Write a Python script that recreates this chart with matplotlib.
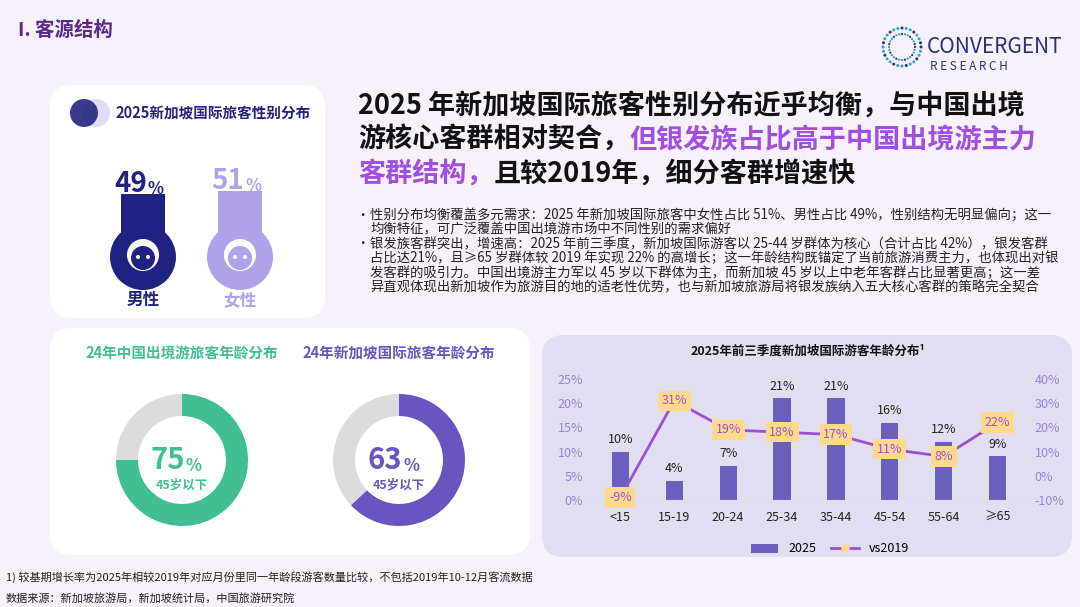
import numpy as np
import matplotlib.pyplot as plt
from matplotlib.patches import FancyBboxPatch, Rectangle, Circle, Wedge

plt.rcParams['font.family'] = ['Noto Sans CJK SC', 'DejaVu Sans']

ages = ["<15", "15-19", "20-24", "25-34", "35-44", "45-54", "55-64", "≥65"]
share_2025 = [10, 4, 7, 21, 21, 16, 12, 9]
growth_vs2019 = [-9, 31, 19, 18, 17, 11, 8, 22]
gender_labels = ["男性", "女性"]
gender_share = [49, 51]
donut_titles = ["24年中国出境游旅客年龄分布", "24年新加坡国际旅客年龄分布"]
donut_share = [75, 63]

W, H = 1080, 607
fig = plt.figure(figsize=(W / 100, H / 100), dpi=100)
fig.patch.set_facecolor("#f6f1fb")
bg = fig.add_axes([0, 0, 1, 1])
bg.set_xlim(0, W)
bg.set_ylim(H, 0)
bg.axis("off")


def panel(x0, y0, x1, y1, color):
    bg.add_patch(FancyBboxPatch((x0, y0), x1 - x0, y1 - y0,
                                boxstyle="round,pad=0,rounding_size=22",
                                fc=color, ec="none"))


bg.text(18, 30, "I. 客源结构", color="#5a2a8c", fontsize=14, weight="bold", va="center")
bg.text(927, 47, "CONVERGENT", color="#2d3170", fontsize=15, va="center")
bg.text(930, 66, "R E S E A R C H", color="#2d3170", fontsize=8.5, va="center")
for k in range(28):
    a = 2 * np.pi * k / 28
    for rr, s in [(19, 3.0), (13, 2.2)]:
        bg.add_patch(Circle((902 + rr * np.cos(a), 47 + rr * np.sin(a)), s * 0.5,
                            fc="#2aa7c9" if k % 3 else "#2d3170", ec="none"))

# gender panel
panel(50, 85, 325, 318, "white")
bg.add_patch(Circle((96, 113), 14, fc="#e1dcf5", ec="none"))
bg.add_patch(Circle((84, 113), 14, fc="#24247e", ec="none", alpha=0.9))
bg.text(115, 113, "2025新加坡国际旅客性别分布", color="#24247e", fontsize=10.5,
        weight="bold", va="center")
gcols = ["#1f2280", "#b0a2e8"]
for i, (lab, v) in enumerate(zip(gender_labels, gender_share)):
    cx = 143 + i * 97
    top = 255 - v * 1.25
    bg.add_patch(Rectangle((cx - 22, top), 44, 255 - top, fc=gcols[i], ec="none"))
    bg.add_patch(Circle((cx, 257), 33, fc=gcols[i], ec="none"))
    bg.add_patch(Circle((cx, 255), 16, fc="white", ec="none"))
    bg.add_patch(Circle((cx, 258), 12, fc=gcols[i], ec="none"))
    bg.add_patch(Circle((cx - 5, 257), 2, fc="white", ec="none"))
    bg.add_patch(Circle((cx + 5, 257), 2, fc="white", ec="none"))
    bg.text(cx + 4, top + 4, f"{v}", color=gcols[i], fontsize=20, weight="bold",
            ha="right", va="bottom", family="DejaVu Sans Condensed" if False else None)
    bg.text(cx + 5, top + 4, "%", color=gcols[i], fontsize=12, weight="bold",
            ha="left", va="bottom")
    bg.text(cx, 300, lab, color=gcols[i], fontsize=12, weight="bold", ha="center", va="center")

# headline
blk, pur = "#111111", "#a04fe0"
hl = [[("2025 年新加坡国际旅客性别分布近乎均衡，与中国出境", blk)],
      [("游核心客群相对契合，", blk), ("但银发族占比高于中国出境游主力", pur)],
      [("客群结构，", pur), ("且较2019年，细分客群增速快", blk)]]
fig.canvas.draw()
r = fig.canvas.get_renderer()
for j, parts in enumerate(hl):
    x = 358
    for txt, c in parts:
        t = bg.text(x, 106 + j * 34, txt, color=c, fontsize=19.5, weight="bold", va="center")
        bb = t.get_window_extent(r)
        x += bb.width

bul = [["性别分布均衡覆盖多元需求：2025 年新加坡国际旅客中女性占比 51%、男性占比 49%，性别结构无明显偏向；这一",
        "均衡特征，可广泛覆盖中国出境游市场中不同性别的需求偏好"],
       ["银发族客群突出，增速高：2025 年前三季度，新加坡国际游客以 25-44 岁群体为核心（合计占比 42%），银发客群",
        "占比达21%，且≥65 岁群体较 2019 年实现 22% 的高增长；这一年龄结构既锚定了当前旅游消费主力，也体现出对银",
        "发客群的吸引力。中国出境游主力军以 45 岁以下群体为主，而新加坡 45 岁以上中老年客群占比显著更高；这一差",
        "异直观体现出新加坡作为旅游目的地的适老性优势，也与新加坡旅游局将银发族纳入五大核心客群的策略完全契合"]]
y = 215
for b in bul:
    bg.text(356, y, "•", fontsize=9, va="center", color=blk)
    for line in b:
        bg.text(370, y, line, fontsize=9.6, va="center", color="#222222")
        y += 14.5

# donut panel
panel(50, 328, 530, 555, "white")
dcols = ["#3fbf92", "#6a55c0"]
for i, (tt, v) in enumerate(zip(donut_titles, donut_share)):
    cx = 182 + i * 217
    bg.text(cx, 353, tt, color=dcols[i], fontsize=10.5, weight="bold", ha="center", va="center")
    # y axis is inverted, so increasing angle runs clockwise; 270 is the top
    end = 270 + 360 * v / 100
    bg.add_patch(Wedge((cx, 460), 66, 270, end, width=22, fc=dcols[i], ec="none"))
    bg.add_patch(Wedge((cx, 460), 66, end, 630, width=22, fc="#dcdcdc", ec="none"))
    bg.text(cx + 3, 475, f"{v}", color=dcols[i], fontsize=21, weight="bold", ha="right", va="bottom")
    bg.text(cx + 4, 475, "%", color=dcols[i], fontsize=12, weight="bold", ha="left", va="bottom")
    bg.text(cx, 485, "45岁以下", color=dcols[i], fontsize=9, weight="bold", ha="center", va="center")

# bar chart panel
panel(542, 335, 1072, 557, "#e1def1")
bg.text(808, 351, "2025年前三季度新加坡国际游客年龄分布¹", fontsize=9, weight="bold",
        ha="center", va="center", color="#111111")
ax = fig.add_axes([588 / W, 1 - 500 / H, (1030 - 588) / W, (500 - 379) / H])
ax.set_facecolor("none")
xs = np.arange(len(ages))
ax.bar(xs, share_2025, width=0.32, color="#6a5fbd", label="2025")
for xi, v in zip(xs, share_2025):
    ax.text(xi, v + 1.2, f"{v}%", ha="center", va="bottom", fontsize=9, color="#222222")
ax.set_ylim(0, 25)
ax.set_xlim(-0.6, len(ages) - 0.4)
ax.set_yticks(range(0, 26, 5))
ax.set_yticklabels([f"{t}%" for t in range(0, 26, 5)])
ax.set_xticks(xs)
ax.set_xticklabels(ages)
ax.tick_params(axis="y", colors="#9a7fe0", labelsize=9, length=0)
ax.tick_params(axis="x", colors="#222222", labelsize=9, length=0, pad=8)
for s in ax.spines.values():
    s.set_visible(False)
ax.axhline(0, color="#cfcde0", lw=0.8)
ax2 = ax.twinx()
ax2.plot(xs, growth_vs2019, color="#9b4fd6", lw=2, marker="o", ms=5,
         mfc="#ffd98a", mec="#ffd98a", label="vs2019")
for xi, v in zip(xs, growth_vs2019):
    ax2.text(xi, v, f"{v}%", ha="center", va="center", fontsize=9, color="#9b4fd6",
             bbox=dict(boxstyle="square,pad=0.3", fc="#ffd98a", ec="none"))
ax2.set_ylim(-10, 40)
ax2.set_yticks(range(-10, 41, 10))
ax2.set_yticklabels([f"{t}%" for t in range(-10, 41, 10)])
ax2.tick_params(axis="y", colors="#9a7fe0", labelsize=9, length=0)
for s in ax2.spines.values():
    s.set_visible(False)
h1, l1 = ax.get_legend_handles_labels()
h2, l2 = ax2.get_legend_handles_labels()
fig.legend(h1 + h2, l1 + l2, loc="center", bbox_to_anchor=(830 / W, 1 - 549 / H),
           ncol=2, frameon=False, fontsize=9, handlelength=2.2, columnspacing=1.2)

bg.text(6, 577, "1) 较基期增长率为2025年相较2019年对应月份里同一年龄段游客数量比较，不包括2019年10-12月客流数据",
        fontsize=8, style="italic", va="center", color="#222222")
bg.text(6, 598, "数据来源：新加坡旅游局，新加坡统计局，中国旅游研究院", fontsize=8,
        style="italic", va="center", color="#222222")

fig.savefig("out.png", dpi=100, facecolor=fig.get_facecolor())
